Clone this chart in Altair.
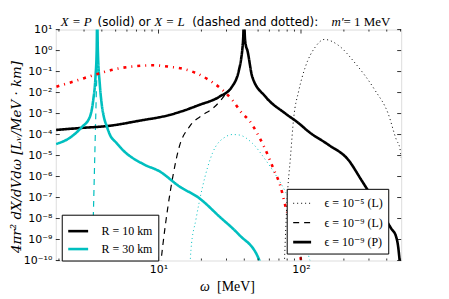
import altair as alt
import pandas as pd

# ---------------- data (omega in MeV, log10 of y) -------------
# R = 10 km, eps = 1e-9 (P)  -- black solid
bP_omega = [1.91, 2.81, 4.55, 7.36, 11.9, 14.0, 19.3, 26.7, 32.8, 36.7, 38.0, 38.7, 39.3, 39.8,
            40.4, 41.0, 42.0, 45.5, 56.4, 77.8, 96.4, 113, 156, 215, 265, 348, 430, 465, 480, 497]
bP_log10 = [-3.78, -3.69, -3.58, -3.34, -3.07, -2.93, -2.59, -2.2, -1.72, -0.93, -0.4, 0.02, 0.6, 1.6,
            0.6, 0.25, 0.02, -1.25, -2.2, -3.0, -3.46, -3.86, -4.49, -5.21, -6.16, -7.45, -8.48, -8.86, -9.3, -10.3]

# R = 30 km, eps = 1e-9 (P)  -- cyan solid
cP_omega = [1.91, 2.39, 2.89, 3.30, 3.48, 3.61, 3.68, 3.71, 3.75, 3.87, 4.0, 4.13, 4.33, 4.55,
            5.07, 5.64, 7.77, 10.2, 14.0, 19.3, 26.7, 36.7, 50.7, 53]
cP_log10 = [-4.45, -4.15, -3.65, -3.15, -2.36, -1.25, 0.0, 1.6, 0.0, -1.6, -2.6, -3.15, -3.6, -4.0,
            -4.4, -4.75, -5.4, -5.76, -6.47, -7.03, -7.9, -8.77, -9.95, -10.3]

# R = 10 km, eps = 1e-9 (L)  -- black dashed
bL9_omega = [10.3, 10.7, 12.6, 14.0, 16.5, 20.4, 23.9, 27.4, 30.5]
bL9_log10 = [-10.3, -9.32, -6.0, -4.57, -3.62, -3.07, -2.77, -2.36, -1.95]

# R = 30 km, eps = 1e-9 (L)  -- cyan dashed
cL9_omega = [3.41, 3.48, 3.55, 3.62, 3.69, 3.71]
cL9_log10 = [-10.05, -8.05, -5.68, -3.3, -1.17, -0.8]

# R = 10 km, eps = 1e-5 (L)  -- black dotted
bL5_omega = [76.3, 79.9, 84.3, 88.9, 96.4, 107.3, 126, 146, 183, 240, 330, 409, 468, 494, 505]
bL5_log10 = [-10.3, -7.1, -5.1, -3.2, -1.92, -0.78, 0.17, 0.53, 0.25, -0.6, -1.88, -3.0, -4.26, -4.64, -5.1]

# R = 30 km, eps = 1e-5 (L)  -- cyan dotted
cL5_omega = [16.6, 16.9, 18.3, 20.4, 23.9, 29.7, 33.0, 36.7, 45.5, 56.4, 69.8, 77.8, 96.4, 118]
cL5_log10 = [-10.3, -9.48, -8.05, -6.47, -4.89, -4.10, -4.0, -4.02, -4.41, -5.21, -6.16, -6.73, -8.29, -10.2]

# red dash-dot curve (not in legend)
red_omega = [1.92, 2.6, 3.67, 5.07, 6.99, 9.12, 11.9, 14.8, 18.3, 22.7, 27.4, 33.0, 38.7, 43.1,
             50.7, 55.0, 64.5, 71.8, 77.8, 99, 101]
red_log10 = [-1.72, -1.45, -1.13, -0.87, -0.74, -0.70, -0.77, -0.87, -1.07, -1.41, -1.81, -2.36, -3.0,
             -3.31, -4.1, -4.57, -5.68, -6.47, -7.42, -9.8, -10.2]

R_labels = ["R = 10 km", "R = 30 km"]
eps_labels = ["ϵ = 10⁻⁵ (L)", "ϵ = 10⁻⁹ (L)", "ϵ = 10⁻⁹ (P)"]

x_major_ticks = [10, 100]
x_minor_ticks = [2, 3, 4, 5, 6, 7, 8, 9, 20, 30, 40, 50, 60, 70, 80, 90, 200, 300, 400, 500]
y_exponents = list(range(-10, 2))
y_major_ticks = [10.0 ** e for e in y_exponents]

# ---------------- build tables ----------------
def curve(om, ly, R, eps):
    return pd.DataFrame({"omega": om, "value": [10.0 ** v for v in ly], "R": R, "eps": eps})

curves = pd.concat([
    curve(bL5_omega, bL5_log10, R_labels[0], eps_labels[0]),
    curve(cL5_omega, cL5_log10, R_labels[1], eps_labels[0]),
    curve(bL9_omega, bL9_log10, R_labels[0], eps_labels[1]),
    curve(cL9_omega, cL9_log10, R_labels[1], eps_labels[1]),
    curve(bP_omega, bP_log10, R_labels[0], eps_labels[2]),
    curve(cP_omega, cP_log10, R_labels[1], eps_labels[2]),
], ignore_index=True)
red = pd.DataFrame({"omega": red_omega, "value": [10.0 ** v for v in red_log10]})

SUP = str.maketrans("0123456789-", "⁰¹²³⁴⁵⁶⁷⁸⁹⁻")
ylab_arr = "[" + ",".join("'10" + str(e).translate(SUP) + "'" for e in y_exponents) + "]"
ylabel_expr = ylab_arr + "[round(log(datum.value)/LN10)+10]"
xlabel_expr = "datum.value == 10 ? '10¹' : '10²'"

W, H = 347, 232
SANS = "DejaVu Sans"
SERIF = "Liberation Serif, DejaVu Serif"

xscale = alt.Scale(type="log", domain=[1.9, 505])
yscale = alt.Scale(type="log", domain=[1e-10, 10])
xaxis = alt.Axis(values=x_major_ticks, labelExpr=xlabel_expr, ticks=False, domain=False, grid=False,
                 title=None, labelFont=SANS, labelFontSize=11, labelPadding=3, labelColor="black")
yaxis = alt.Axis(values=y_major_ticks, labelExpr=ylabel_expr, ticks=False, domain=False, grid=False,
                 title=None, labelFont=SANS, labelFontSize=11, labelPadding=4, labelColor="black")

def X(field="omega"):
    return alt.X(field + ":Q", scale=xscale, axis=xaxis, title=None)

def Y(field="value"):
    return alt.Y(field + ":Q", scale=yscale, axis=yaxis, title=None)

eps_legend = alt.Legend(title=None, orient="none", legendX=232, legendY=160,
                        symbolType="stroke", symbolSize=324, symbolStrokeColor="black",
                        labelFont=SERIF, labelFontSize=12, labelColor="black",
                        fillColor="white", strokeColor="black", padding=5,
                        rowPadding=3, labelOffset=12, zindex=1)

lines = alt.Chart(curves).mark_line(clip=True, interpolate="monotone").encode(
    x=X(), y=Y(),
    color=alt.Color("R:N", scale=alt.Scale(domain=R_labels, range=["black", "#00BFBF"]),
                    legend=alt.Legend(title=None, orient="none", legendX=6, legendY=186,
                                      symbolType="stroke", symbolSize=400, symbolStrokeWidth=2.6,
                                      labelFont=SERIF, labelFontSize=12, labelColor="black",
                                      fillColor="white", strokeColor="black", padding=5,
                                      rowPadding=0, labelOffset=12, zindex=1)),
    strokeDash=alt.StrokeDash("eps:O", scale=alt.Scale(type="ordinal", domain=eps_labels,
                                                       range=[[1, 3], [6, 5], [1, 0]]),
                              legend=eps_legend),
    strokeWidth=alt.StrokeWidth("eps:O", scale=alt.Scale(type="ordinal", domain=eps_labels,
                                                         range=[1.0, 1.2, 2.6]),
                                legend=eps_legend),
)

red_line = alt.Chart(red).mark_line(clip=True, color="red", strokeDash=[3, 5, 1, 5], strokeWidth=2.6,
                                    interpolate="monotone").encode(x=X(), y=Y())

def xticks(vals, y0, y1):
    return alt.Chart(pd.DataFrame({"omega": vals})).mark_rule(color="black", strokeWidth=0.8).encode(
        x=X(), y=alt.value(y0), y2=alt.value(y1))

def yticks(vals, x0, x1):
    return alt.Chart(pd.DataFrame({"value": vals})).mark_rule(color="black", strokeWidth=0.8).encode(
        y=Y(), x=alt.value(x0), x2=alt.value(x1))

ticks = [
    xticks(x_major_ticks, H, H - 4), xticks(x_major_ticks, 0, 4),
    xticks(x_minor_ticks, H, H - 2), xticks(x_minor_ticks, 0, 2),
    yticks(y_major_ticks, 0, 4), yticks(y_major_ticks, W, W - 4),
]

one = pd.DataFrame({"a": [0]})

def label(text, x, y, font, style="normal", size=12, angle=0, align="left", baseline="alphabetic"):
    return alt.Chart(one).mark_text(text=text, font=font, fontStyle=style, fontSize=size, angle=angle,
                                    align=align, baseline=baseline, color="black").encode(
        x=alt.value(x), y=alt.value(y))

texts = [
    label("X = P", 5, -4, SERIF, "italic", 13),
    label("(solid) or", 42, -4, SANS, "normal", 12),
    label("X = L", 99, -4, SERIF, "italic", 13),
    label("(dashed and dotted):", 137, -4, SANS, "normal", 12),
    label("m′", 277, -4, SERIF, "italic", 13),
    label("= 1 MeV", 289, -4, SERIF, "normal", 13),
    label("ω", 145, 259, SERIF, "italic", 14, baseline="middle"),
    label("[MeV]", 162, 259, SERIF, "normal", 14, baseline="middle"),
    label("4πr² dX/dVdω  [Lᵥ/MeV · km]", -39, 128, "DejaVu Serif", "italic", 13.5, angle=270,
          align="center", baseline="middle"),
]

chart = alt.layer(lines, red_line, *ticks, *texts).properties(
    width=W, height=H,
    padding={"left": 48, "top": 21, "right": 40, "bottom": 38},
    autosize=alt.AutoSizeParams(type="none"),
).configure_view(stroke="black", strokeWidth=1.2).configure(background="white")

chart.save("out.html", embed_options={"renderer": "svg", "actions": False})
